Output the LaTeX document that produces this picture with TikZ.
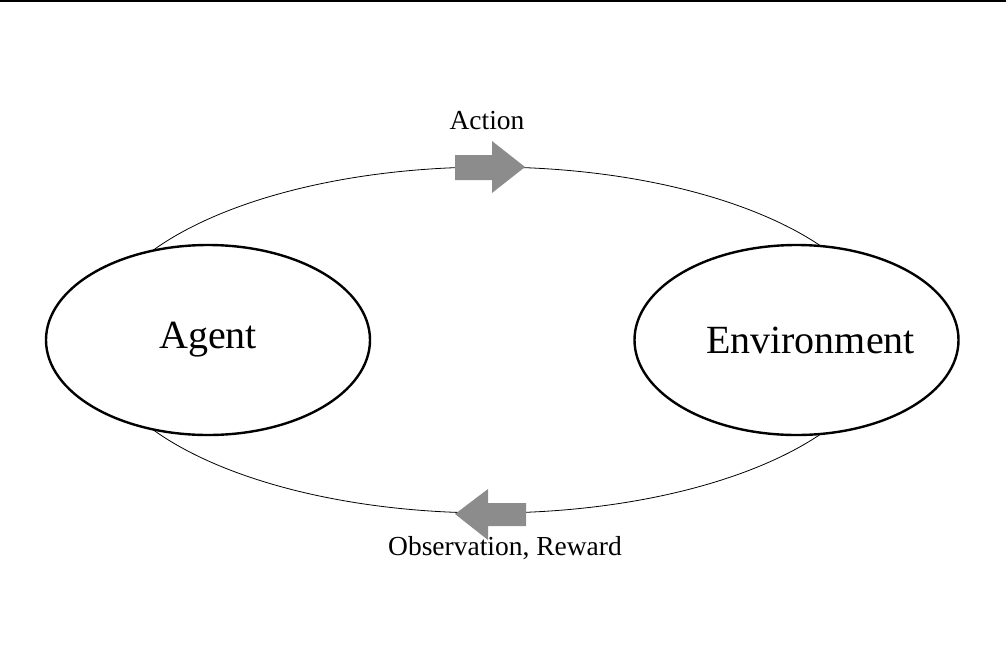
\documentclass[tikz,border=0pt]{standalone}
\usepackage{fontspec}
\setmainfont{Liberation Serif}
\usetikzlibrary{shapes.geometric}
\begin{document}
\begin{tikzpicture}[x=1pt,y=-1pt,
  bigfont/.style={font=\fontsize{40}{44}\selectfont},
  actor/.style={draw=black,line width=2.4pt,fill=white,ellipse,minimum width=324pt,minimum height=190pt,inner sep=0pt,bigfont},
  loopline/.style={draw=black,line width=0.8pt},
  flowarrow/.style={fill=black!45,draw=none},
  flowlabel/.style={font=\fontsize{27.5}{30}\selectfont}]
\useasboundingbox (0,0) rectangle (1006,646);
\draw[line width=1.6pt] (0,0.8) -- (1006,0.8);
% loop
\draw[loopline] (490,340) ellipse [x radius=394, y radius=173];
% actors
\node[actor] (agent) at (208,340) {Agent};
\node[actor,label={[bigfont,xshift=14pt]center:Environment}] (env) at (796.5,340) {};
% action arrow (to the right)
\fill[flowarrow] (455,155) -- (492,155) -- (492,141) -- (525,167) -- (492,193) -- (492,180) -- (455,180) -- cycle;
% observation arrow (to the left)
\fill[flowarrow] (526,503) -- (488,503) -- (488,489) -- (455,514) -- (488,540) -- (488,526) -- (526,526) -- cycle;
\node[flowlabel] (action) at (487,121) {Action};
\node[flowlabel] (obs) at (505,548) {Observation, Reward};
\end{tikzpicture}
\end{document}
